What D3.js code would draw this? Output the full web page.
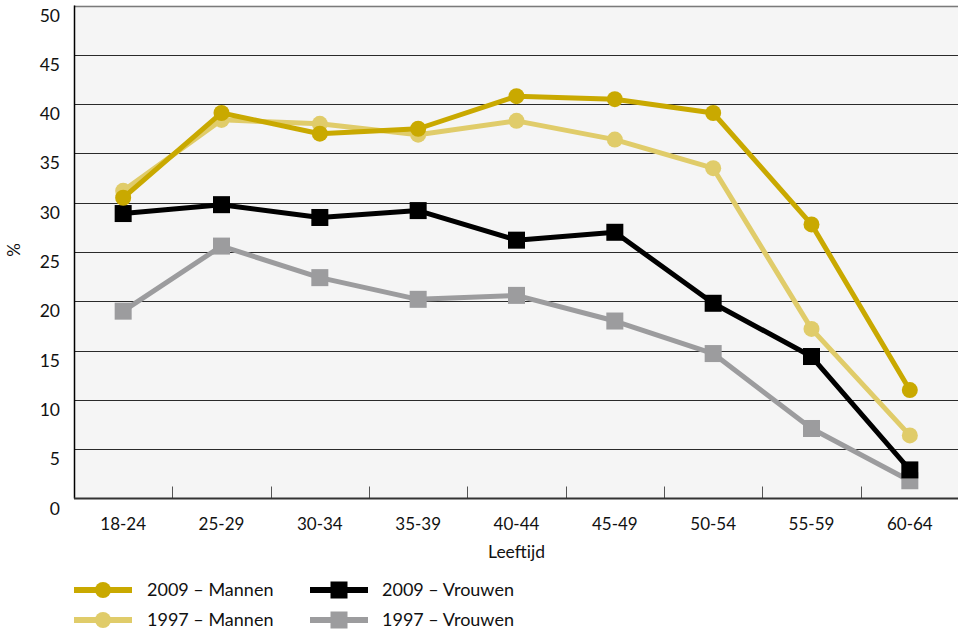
<!DOCTYPE html>
<html lang="nl">
<head>
<meta charset="UTF-8">
<title>Leeftijd</title>
<style>
  body { margin: 0; background: #fff; }
  text { font-family: Lato, "Open Sans", sans-serif; fill: #111; }
</style>
</head>
<body>
<script src="https://cdn.jsdelivr.net/npm/d3@7"></script>
<script>
// data
const ageGroups = ["18-24", "25-29", "30-34", "35-39", "40-44", "45-49", "50-54", "55-59", "60-64"];
const men2009 = [30.5, 39.1, 37.0, 37.5, 40.8, 40.5, 39.1, 27.8, 11.0];
const men1997 = [31.2, 38.4, 38.0, 36.9, 38.3, 36.4, 33.5, 17.2, 6.4];
const women2009 = [28.9, 29.8, 28.5, 29.2, 26.2, 27.0, 19.8, 14.4, 2.9];
const women1997 = [19.0, 25.6, 22.4, 20.2, 20.6, 18.0, 14.7, 7.1, 1.8];
const yTicks = [0, 5, 10, 15, 20, 25, 30, 35, 40, 45, 50];

const series = [
  { name: "1997 – Vrouwen", values: women1997, color: "#9c9c9e", shape: "square", width: 5 },
  { name: "2009 – Vrouwen", values: women2009, color: "#000000", shape: "square", width: 5 },
  { name: "1997 – Mannen", values: men1997, color: "#e0cc6a", shape: "circle", width: 5 },
  { name: "2009 – Mannen", values: men2009, color: "#c9a900", shape: "circle", width: 5 }
];

const width = 958, height = 633;
const plotLeft = 74, plotRight = 959, plotTop = 5.5, plotBottom = 498.5;

const svg = d3.select("body").append("svg")
  .attr("width", width)
  .attr("height", height);

const x = d3.scaleBand().domain(ageGroups).range([plotLeft, plotRight]);
const y = d3.scaleLinear().domain([0, 50]).range([plotBottom, plotTop]);

// plot background
svg.append("rect")
  .attr("x", plotLeft).attr("y", plotTop)
  .attr("width", plotRight - plotLeft).attr("height", plotBottom - plotTop)
  .attr("fill", "#f5f5f5");

// gridlines
svg.append("g")
  .selectAll("line")
  .data(yTicks.filter(d => d > 0))
  .join("line")
  .attr("x1", plotLeft).attr("x2", plotRight)
  .attr("y1", d => Math.round(y(d)) + 0.5)
  .attr("y2", d => Math.round(y(d)) + 0.5)
  .attr("stroke", d => d === 50 ? "#7a7a7a" : "#2a2a2a")
  .attr("stroke-width", d => d === 50 ? 1.5 : 1);

// y labels sit a bit below their gridline
svg.append("g")
  .selectAll("text")
  .data(yTicks)
  .join("text")
  .attr("x", 60)
  .attr("y", d => y(d) + 16)
  .attr("text-anchor", "end")
  .attr("font-size", 17.5)
  .text(d => d);

svg.append("text")
  .attr("transform", "translate(20,250) rotate(-90)")
  .attr("text-anchor", "middle")
  .attr("font-size", 17)
  .text("%");

// category separators at the base
svg.append("g")
  .selectAll("line")
  .data(ageGroups.slice(1))
  .join("line")
  .attr("x1", d => Math.round(x(d)) + 0.5)
  .attr("x2", d => Math.round(x(d)) + 0.5)
  .attr("y1", plotBottom - 12).attr("y2", plotBottom)
  .attr("stroke", "#555");

// axes lines
svg.append("line")
  .attr("x1", plotLeft + 0.5).attr("x2", plotLeft + 0.5)
  .attr("y1", plotTop).attr("y2", plotBottom)
  .attr("stroke", "#000").attr("stroke-width", 1.5);
svg.append("line")
  .attr("x1", plotLeft).attr("x2", plotRight)
  .attr("y1", plotBottom).attr("y2", plotBottom)
  .attr("stroke", "#333").attr("stroke-width", 2);

svg.append("g")
  .selectAll("text")
  .data(ageGroups)
  .join("text")
  .attr("x", d => x(d) + x.bandwidth() / 2)
  .attr("y", 530)
  .attr("text-anchor", "middle")
  .attr("font-size", 17)
  .text(d => d);

svg.append("text")
  .attr("x", x("40-44") + x.bandwidth() / 2)
  .attr("y", 558)
  .attr("text-anchor", "middle")
  .attr("font-size", 17.5)
  .text("Leeftijd");

// lines and markers
const line = d3.line()
  .x((d, i) => x(ageGroups[i]) + x.bandwidth() / 2)
  .y(d => y(d));

const groups = svg.append("g")
  .selectAll("g")
  .data(series)
  .join("g");

groups.append("path")
  .attr("d", d => line(d.values))
  .attr("fill", "none")
  .attr("stroke", d => d.color)
  .attr("stroke-width", d => d.width)
  .attr("stroke-linejoin", "round");

groups.each(function (s) {
  const g = d3.select(this);
  s.values.forEach((v, i) => {
    const cx = x(ageGroups[i]) + x.bandwidth() / 2;
    if (s.shape === "circle") {
      g.append("circle").attr("cx", cx).attr("cy", y(v)).attr("r", 8).attr("fill", s.color);
    } else {
      g.append("rect").attr("x", cx - 8.5).attr("y", y(v) - 8.5)
        .attr("width", 17).attr("height", 17).attr("fill", s.color);
    }
  });
});

// legend
const legendItems = [
  { s: series[3], x: 74, y: 590 },
  { s: series[2], x: 74, y: 620 },
  { s: series[1], x: 310, y: 590 },
  { s: series[0], x: 310, y: 620 }
];

const lg = svg.append("g")
  .selectAll("g")
  .data(legendItems)
  .join("g")
  .attr("transform", d => `translate(${d.x},${d.y})`);

lg.append("line")
  .attr("x1", 0).attr("x2", 58)
  .attr("stroke", d => d.s.color)
  .attr("stroke-width", 6);

lg.each(function (d) {
  const g = d3.select(this);
  if (d.s.shape === "circle") {
    g.append("circle").attr("cx", 29).attr("r", 8).attr("fill", d.s.color);
  } else {
    g.append("rect").attr("x", 20.5).attr("y", -8.5).attr("width", 17).attr("height", 17).attr("fill", d.s.color);
  }
});

lg.append("text")
  .attr("x", d => d.x === 74 ? 73 : 72)
  .attr("y", 6)
  .attr("font-size", 18)
  .text(d => d.s.name);
</script>
</body>
</html>
